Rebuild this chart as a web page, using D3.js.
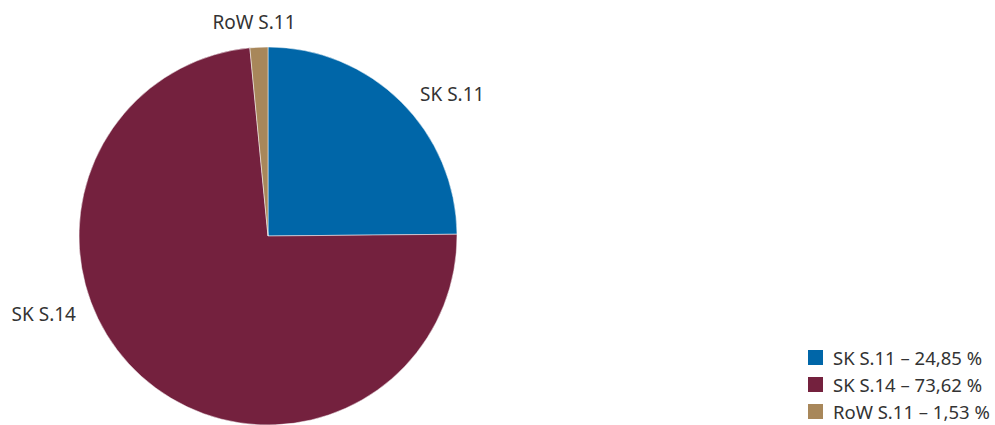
<!DOCTYPE html>
<html><head><meta charset="utf-8">
<script src="https://cdn.jsdelivr.net/npm/d3@7"></script>
<style>body{margin:0;background:#fff;} text{font-family:"Noto Sans",sans-serif;fill:#333;}</style>
</head><body>
<svg id="c" width="995" height="425"></svg>
<script>
const categories = ["SK S.11", "SK S.14", "RoW S.11"];
const values = [24.85, 73.62, 1.53];
const legendLabels = ["SK S.11 – 24,85 %", "SK S.14 – 73,62 %", "RoW S.11 – 1,53 %"];
const colors = ["#0066a8", "#74213e", "#a8875a"];

const svg = d3.select("#c");
const cx = 268, cy = 236, r = 189;
const pie = d3.pie().sort(null).value(d => d)(values);
const arc = d3.arc().innerRadius(0).outerRadius(r);
const g = svg.append("g").attr("transform", `translate(${cx},${cy})`);
g.selectAll("path").data(pie).join("path")
  .attr("d", arc).attr("fill", (d,i) => colors[i]).attr("stroke", "#fff").attr("stroke-width", 0.5);

// label placement (layout only)
const labelPos = [
  {x: 152, y: -135, anchor: "start"},
  {x: -192, y: 85, anchor: "end"},
  {x: -14, y: -207, anchor: "middle"}
];
g.selectAll("text.lbl").data(categories).join("text")
  .attr("class", "lbl")
  .attr("x", (d,i) => labelPos[i].x).attr("y", (d,i) => labelPos[i].y)
  .attr("text-anchor", (d,i) => labelPos[i].anchor)
  .attr("font-size", 19).text(d => d);

const lg = svg.append("g").attr("transform", "translate(808,350)");
const row = lg.selectAll("g").data(legendLabels).join("g")
  .attr("transform", (d,i) => `translate(0,${i*27})`);
row.append("rect").attr("width", 15).attr("height", 15).attr("fill", (d,i) => colors[i]);
row.append("text").attr("x", 25).attr("y", 15).attr("font-size", 18.5).text(d => d);
</script>
</body></html>
